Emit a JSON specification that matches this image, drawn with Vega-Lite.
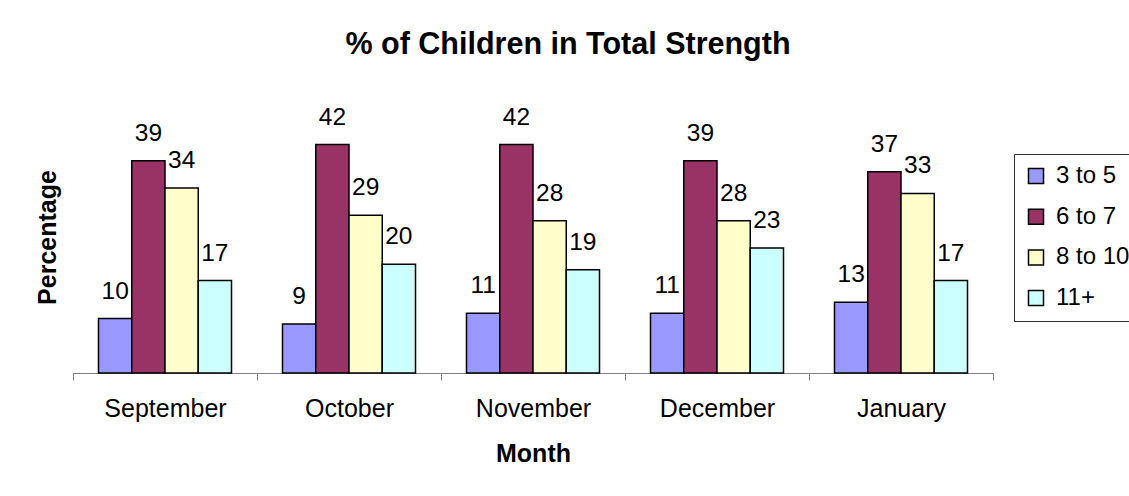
{
  "$schema": "https://vega.github.io/schema/vega-lite/v6.json",
  "width": 920,
  "height": 272,
  "autosize": {"type": "none"},
  "padding": {"left": 73, "top": 101, "right": 136, "bottom": 123},
  "background": "white",
  "config": {
    "font": "Liberation Sans",
    "view": {"stroke": null},
    "text": {"color": "black"}
  },
  "title": {
    "text": "% of Children in Total Strength",
    "fontSize": 30.5,
    "fontWeight": "bold",
    "color": "black",
    "frame": "group",
    "anchor": "middle",
    "baseline": "alphabetic",
    "offset": 17,
    "dx": 35
  },
  "data": {
    "values": [
      {"month": "September", "group": "3 to 5", "pct": 10},
      {"month": "September", "group": "6 to 7", "pct": 39},
      {"month": "September", "group": "8 to 10", "pct": 34},
      {"month": "September", "group": "11+", "pct": 17},
      {"month": "October", "group": "3 to 5", "pct": 9},
      {"month": "October", "group": "6 to 7", "pct": 42},
      {"month": "October", "group": "8 to 10", "pct": 29},
      {"month": "October", "group": "11+", "pct": 20},
      {"month": "November", "group": "3 to 5", "pct": 11},
      {"month": "November", "group": "6 to 7", "pct": 42},
      {"month": "November", "group": "8 to 10", "pct": 28},
      {"month": "November", "group": "11+", "pct": 19},
      {"month": "December", "group": "3 to 5", "pct": 11},
      {"month": "December", "group": "6 to 7", "pct": 39},
      {"month": "December", "group": "8 to 10", "pct": 28},
      {"month": "December", "group": "11+", "pct": 23},
      {"month": "January", "group": "3 to 5", "pct": 13},
      {"month": "January", "group": "6 to 7", "pct": 37},
      {"month": "January", "group": "8 to 10", "pct": 33},
      {"month": "January", "group": "11+", "pct": 17}
    ]
  },
  "encoding": {
    "x": {
      "field": "month",
      "type": "nominal",
      "sort": ["September", "October", "November", "December", "January"],
      "scale": {"paddingInner": 0, "paddingOuter": 0},
      "axis": {
        "title": "Month",
        "titleFontSize": 25,
        "titleFontWeight": "bold",
        "titleColor": "black",
        "titlePadding": 20,
        "labelAngle": 0,
        "labelFontSize": 25,
        "labelColor": "black",
        "labelPadding": 16,
        "tickBand": "extent",
        "tickSize": 7,
        "tickColor": "#808080",
        "domainColor": "#808080",
        "domainWidth": 1,
        "grid": false
      }
    },
    "xOffset": {
      "field": "group",
      "type": "nominal",
      "sort": ["3 to 5", "6 to 7", "8 to 10", "11+"],
      "scale": {"paddingInner": 0, "paddingOuter": 0.767}
    },
    "y": {
      "field": "pct",
      "type": "quantitative",
      "scale": {"domain": [0, 50]},
      "axis": {
        "title": "Percentage",
        "titleFontSize": 25,
        "titleFontWeight": "bold",
        "titleColor": "black",
        "titlePadding": 13,
        "labels": false,
        "ticks": false,
        "domain": false,
        "grid": false
      }
    }
  },
  "layer": [
    {
      "mark": {"type": "bar", "stroke": "black", "strokeWidth": 1.5},
      "encoding": {
        "color": {
          "field": "group",
          "type": "nominal",
          "scale": {
            "domain": ["3 to 5", "6 to 7", "8 to 10", "11+"],
            "range": ["#9999FF", "#993366", "#FFFFCC", "#CCFFFF"]
          },
          "legend": {
            "title": null,
            "orient": "none",
            "legendX": 941,
            "legendY": 53,
            "padding": 10,
            "strokeColor": "#333333",
            "fillColor": "white",
            "symbolType": "square",
            "symbolSize": 225,
            "symbolStrokeColor": "black",
            "symbolStrokeWidth": 1.5,
            "symbolOpacity": 1,
            "labelFontSize": 24,
            "labelColor": "black",
            "labelOffset": 8,
            "rowPadding": 16.7
          }
        }
      }
    },
    {
      "mark": {"type": "text", "baseline": "alphabetic", "dy": -20, "fontSize": 24.5, "color": "black"},
      "encoding": {"text": {"field": "pct", "type": "quantitative"}}
    }
  ]
}
